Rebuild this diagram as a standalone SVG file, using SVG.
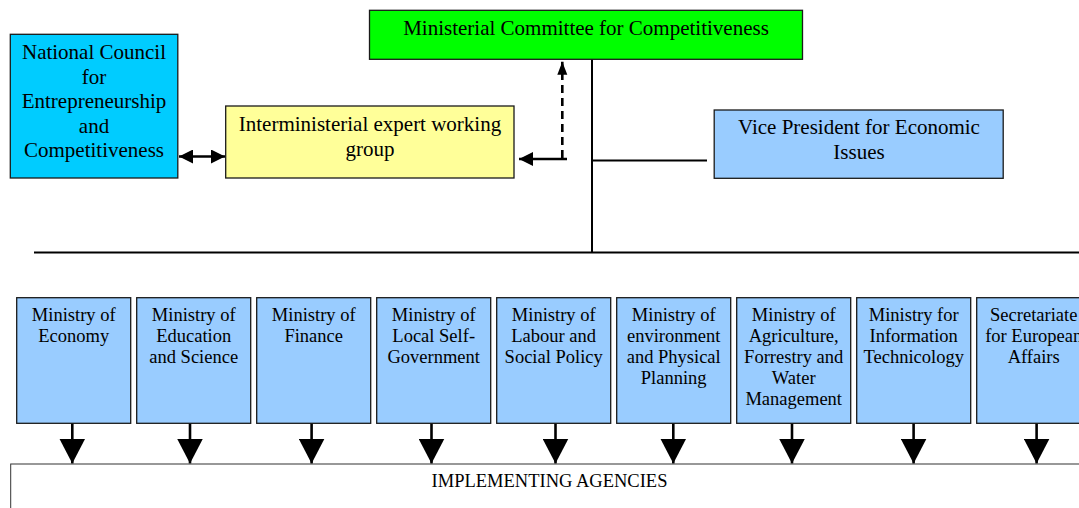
<svg xmlns="http://www.w3.org/2000/svg" width="1079" height="508" viewBox="0 0 1079 508">
<style>
.box{stroke:#1a1a1a;stroke-width:1.3}
.t{font-family:"Liberation Serif","Times New Roman",serif;fill:#000;text-anchor:middle}
.big{font-size:21px}
.sm{font-size:18.5px}
.ln{stroke:#000;fill:none}
</style>
<defs>
<marker id="down" markerUnits="userSpaceOnUse" markerWidth="26" markerHeight="26" refX="25" refY="13" orient="auto"><path d="M0,0 L25,13 L0,26 z" fill="#000"/></marker>
<marker id="head" markerUnits="userSpaceOnUse" markerWidth="15" markerHeight="14" refX="14" refY="7" orient="auto-start-reverse"><path d="M0,0 L14,7 L0,14 z" fill="#000"/></marker>
<marker id="up" markerUnits="userSpaceOnUse" markerWidth="14" markerHeight="11" refX="13" refY="5" orient="auto"><path d="M0,0 L13,5 L0,10 z" fill="#000"/></marker>
</defs>
<rect width="1079" height="508" fill="#fff"/>

<g id="connectors">
<line class="ln" x1="592" y1="59" x2="592" y2="252.5" stroke-width="2"/>
<line class="ln" x1="34" y1="252.5" x2="1079" y2="252.5" stroke-width="2"/>
<line class="ln" x1="592" y1="160.5" x2="707" y2="160.5" stroke-width="2"/>
<line class="ln" x1="179" y1="156.5" x2="225" y2="156.5" stroke-width="2.6" marker-start="url(#head)" marker-end="url(#head)"/>
<line class="ln" x1="567" y1="159" x2="519" y2="159" stroke-width="2.6" marker-end="url(#head)"/>
<line class="ln" x1="562.3" y1="158" x2="562.3" y2="61.7" stroke-width="2.6" stroke-dasharray="8,5" marker-end="url(#up)"/>
<line class="ln" x1="72.3" y1="423" x2="72.3" y2="463.5" stroke-width="2.6" marker-end="url(#down)"/>
<line class="ln" x1="190" y1="423" x2="190" y2="463.5" stroke-width="2.6" marker-end="url(#down)"/>
<line class="ln" x1="311.6" y1="423" x2="311.6" y2="463.5" stroke-width="2.6" marker-end="url(#down)"/>
<line class="ln" x1="431.5" y1="423" x2="431.5" y2="463.5" stroke-width="2.6" marker-end="url(#down)"/>
<line class="ln" x1="555.5" y1="423" x2="555.5" y2="463.5" stroke-width="2.6" marker-end="url(#down)"/>
<line class="ln" x1="673.3" y1="423" x2="673.3" y2="463.5" stroke-width="2.6" marker-end="url(#down)"/>
<line class="ln" x1="792" y1="423" x2="792" y2="463.5" stroke-width="2.6" marker-end="url(#down)"/>
<line class="ln" x1="913.6" y1="423" x2="913.6" y2="463.5" stroke-width="2.6" marker-end="url(#down)"/>
<line class="ln" x1="1036.6" y1="423" x2="1036.6" y2="463.5" stroke-width="2.6" marker-end="url(#down)"/>
</g>

<g id="committee">
<rect class="box" x="369.5" y="10.3" width="433" height="49" fill="#00ff00"/>
<text class="t big" x="586" y="35">Ministerial Committee for Competitiveness</text>
</g>

<g id="national-council">
<rect class="box" x="10.3" y="34.3" width="167.5" height="143.7" fill="#00ccff"/>
<text class="t big" x="94" y="59">National Council</text>
<text class="t big" x="94" y="83.5">for</text>
<text class="t big" x="94" y="108">Entrepreneurship</text>
<text class="t big" x="94" y="132.5">and</text>
<text class="t big" x="94" y="157">Competitiveness</text>
</g>

<g id="expert-group">
<rect class="box" x="225.7" y="106" width="288.3" height="72" fill="#ffff99"/>
<text class="t big" x="370" y="131">Interministerial expert working</text>
<text class="t big" x="370" y="155.5">group</text>
</g>

<g id="vice-president">
<rect class="box" x="714.2" y="110" width="289" height="68.3" fill="#99ccff"/>
<text class="t big" x="859" y="134">Vice President for Economic</text>
<text class="t big" x="859" y="158.5">Issues</text>
</g>

<g id="m-economy">
<rect class="box" x="16.7" y="297.7" width="114" height="125.6" fill="#99ccff"/>
<text class="t sm" x="73.7" y="320.5">Ministry of</text>
<text class="t sm" x="73.7" y="341.5">Economy</text>
</g>
<g id="m-education">
<rect class="box" x="136.7" y="297.7" width="114" height="125.6" fill="#99ccff"/>
<text class="t sm" x="193.7" y="320.5">Ministry of</text>
<text class="t sm" x="193.7" y="341.5">Education</text>
<text class="t sm" x="193.7" y="362.5">and Science</text>
</g>
<g id="m-finance">
<rect class="box" x="256.7" y="297.7" width="114" height="125.6" fill="#99ccff"/>
<text class="t sm" x="313.7" y="320.5">Ministry of</text>
<text class="t sm" x="313.7" y="341.5">Finance</text>
</g>
<g id="m-local">
<rect class="box" x="376.7" y="297.7" width="114" height="125.6" fill="#99ccff"/>
<text class="t sm" x="433.7" y="320.5">Ministry of</text>
<text class="t sm" x="433.7" y="341.5">Local Self-</text>
<text class="t sm" x="433.7" y="362.5">Government</text>
</g>
<g id="m-labour">
<rect class="box" x="496.7" y="297.7" width="114" height="125.6" fill="#99ccff"/>
<text class="t sm" x="553.7" y="320.5">Ministry of</text>
<text class="t sm" x="553.7" y="341.5">Labour and</text>
<text class="t sm" x="553.7" y="362.5">Social Policy</text>
</g>
<g id="m-environment">
<rect class="box" x="616.7" y="297.7" width="114" height="125.6" fill="#99ccff"/>
<text class="t sm" x="673.7" y="320.5">Ministry of</text>
<text class="t sm" x="673.7" y="341.5">environment</text>
<text class="t sm" x="673.7" y="362.5">and Physical</text>
<text class="t sm" x="673.7" y="383.5">Planning</text>
</g>
<g id="m-agriculture">
<rect class="box" x="736.7" y="297.7" width="114" height="125.6" fill="#99ccff"/>
<text class="t sm" x="793.7" y="320.5">Ministry of</text>
<text class="t sm" x="793.7" y="341.5">Agriculture,</text>
<text class="t sm" x="793.7" y="362.5">Forrestry and</text>
<text class="t sm" x="793.7" y="383.5">Water</text>
<text class="t sm" x="793.7" y="404.5">Management</text>
</g>
<g id="m-it">
<rect class="box" x="856.7" y="297.7" width="114" height="125.6" fill="#99ccff"/>
<text class="t sm" x="913.7" y="320.5">Ministry for</text>
<text class="t sm" x="913.7" y="341.5">Information</text>
<text class="t sm" x="913.7" y="362.5">Technicology</text>
</g>
<g id="m-european">
<rect class="box" x="976.7" y="297.7" width="114" height="125.6" fill="#99ccff"/>
<text class="t sm" x="1033.7" y="320.5">Secretariate</text>
<text class="t sm" x="1033.7" y="341.5">for European</text>
<text class="t sm" x="1033.7" y="362.5">Affairs</text>
</g>

<g id="implementing-agencies">
<rect x="10.7" y="464" width="1080" height="60" fill="#fff" stroke="#333" stroke-width="1"/>
<text class="t sm" x="549.5" y="487">IMPLEMENTING AGENCIES</text>
</g>
</svg>
